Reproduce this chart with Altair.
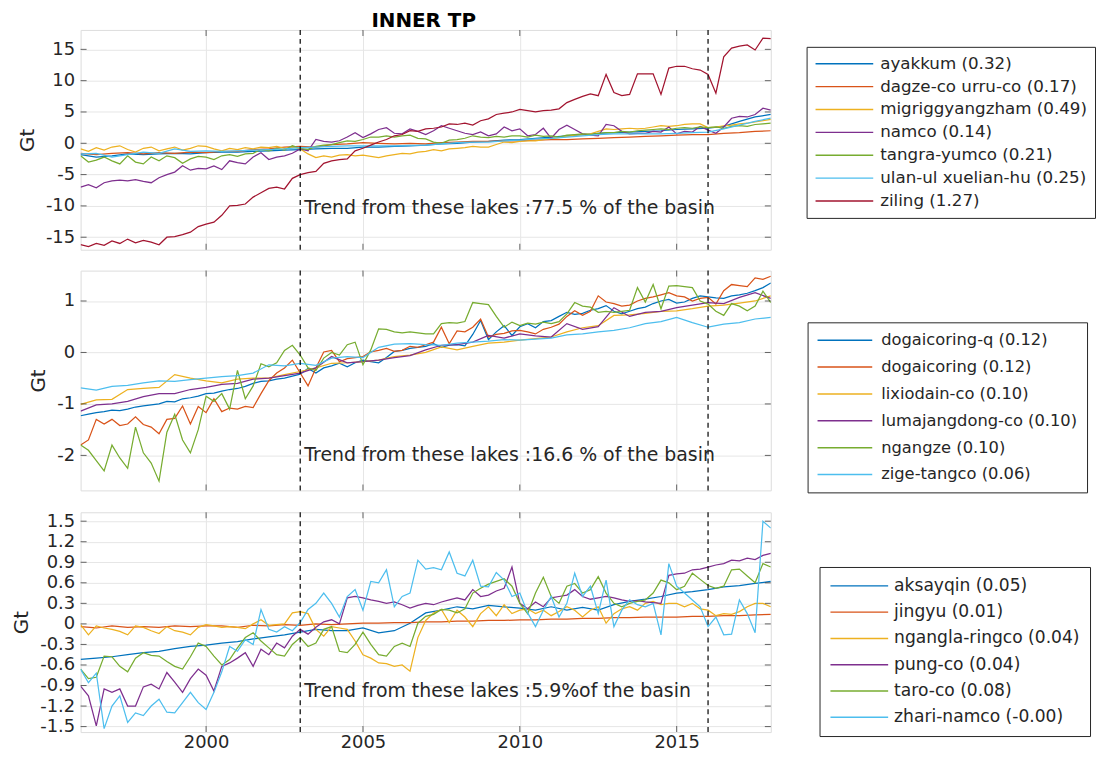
import altair as alt
import pandas as pd

# ---------------- time grids (sampling of the monthly series) ----------------
YEARS_Q = [1996 + 0.25 * i for i in range(89)]   # quarterly samples
YEARS_H = [1996 + 0.5 * i for i in range(45)]    # half-year samples

# ---------------- panel 1 ----------------
P1_NAMES = ["ayakkum (0.32)", "dagze-co urru-co (0.17)", "migriggyangzham (0.49)",
            "namco (0.14)", "tangra-yumco (0.21)", "ulan-ul xuelian-hu (0.25)", "ziling (1.27)"]

AYAKKUM = [-1.8, -2.2, -2.0, -1.7, -1.8, -1.7, -1.6, -1.7, -1.5, -1.4,
           -1.4, -1.3, -1.2, -1.1, -1.0, -0.9, -0.8, -0.8, -0.6, -0.6,
           -0.5, -0.4, -0.3, -0.1, 0.0, 0.2, 0.3, 0.5, 0.6, 0.8,
           1.0, 1.2, 1.4, 1.6, 1.7, 1.8, 1.9, 2.0, 2.2, 2.3,
           2.4, 2.7, 3.5, 4.2, 4.6]
DAGZE = [-1.6, -1.8, -1.6, -1.5, -1.7, -1.5, -1.6, -1.4, -1.5, -1.3,
         -1.3, -1.0, -0.9, -0.6, -0.5, -0.6, -0.2, -0.1, 0.1, 0.0,
         -0.1, 0.0, -0.1, 0.1, 0.2, 0.3, 0.3, 0.4, 0.4, 0.5,
         0.6, 0.6, 0.7, 0.8, 0.9, 1.0, 1.1, 1.2, 1.3, 1.4,
         1.4, 1.6, 1.7, 1.9, 2.0]
MIGRIGGYANGZHAM = [-0.9, -1.3, -0.7, -1.1, -0.6, -0.4, -1.0, -1.4, -0.8, -0.6, -1.2, -0.9,
                   -0.6, -1.1, -0.8, -0.4, -0.5, -0.9, -1.2, -0.8, -1.0, -0.7, -0.9, -0.6,
                   -0.7, -0.5, -0.8, -0.6, -0.9, -1.7, -2.3, -2.0, -2.2, -1.9, -1.8, -2.0,
                   -1.9, -2.1, -2.3, -2.0, -1.8, -1.6, -1.7, -1.4, -1.3, -1.0, -1.2, -0.9,
                   -0.8, -0.7, -0.5, -0.6, -0.6, -0.2, 0.2, 0.1, 0.3, 0.4, 0.4, 0.6,
                   0.8, 0.9, 1.1, 1.3, 1.4, 1.5, 1.9, 2.3, 2.2, 2.3, 2.4, 2.3,
                   2.4, 2.6, 2.8, 2.7, 2.8, 3.0, 3.1, 3.1, 2.5, 2.6, 2.8, 2.9,
                   3.1, 3.2, 3.4, 3.6, 3.8]
NAMCO = [-7.0, -6.6, -7.1, -6.3, -6.0, -5.9, -6.0, -5.8, -6.1, -6.3, -5.5, -5.0,
         -4.6, -3.6, -4.3, -4.0, -4.1, -3.6, -4.2, -2.8, -3.1, -3.3, -2.2, -1.5,
         -2.6, -2.2, -2.0, -1.6, -0.9, -1.2, 0.6, 0.3, 0.2, 0.4, 1.0, 1.7,
         0.9, 1.5, 2.2, 2.5, 1.6, 1.5, 2.3, 1.9, 1.4, 2.0, 2.8, 2.4,
         2.0, 1.6, 1.4, 1.8, 1.2, 1.5, 2.6, 2.0, 2.3, 1.2, 1.4, 2.4,
         0.8, 2.2, 2.9, 2.2, 1.5, 1.3, 1.2, 3.0, 2.8, 1.9, 1.5, 1.6,
         1.6, 1.9, 1.8, 2.6, 1.5, 1.9, 1.8, 2.7, 2.1, 1.6, 2.6, 4.0,
         4.3, 4.2, 4.6, 5.6, 5.3]
TANGRA = [-2.0, -3.0, -2.7, -2.2, -2.8, -3.3, -2.0, -3.0, -3.3, -2.2, -2.8, -2.0,
          -2.3, -3.2, -2.5, -2.1, -2.2, -2.6, -2.0, -1.8, -2.1, -1.7, -1.6, -1.0,
          -1.2, -0.8, -1.1, -0.4, -0.8, -1.0, -0.5, -0.3, -0.2, 0.1, 0.4, 0.3,
          0.6, 1.0, 1.0, 1.2, 1.0, 1.2, 1.3, 0.8, 0.7, 0.2, 0.0, 0.5,
          0.6, 0.8, 1.2, 1.0, 0.9, 1.1, 1.0, 1.2, 1.2, 1.0, 1.3, 1.1,
          1.2, 1.0, 1.3, 1.4, 1.5, 1.4, 1.6, 1.7, 1.7, 1.9, 1.8, 2.0,
          2.1, 2.2, 2.3, 2.2, 2.4, 2.5, 2.4, 2.6, 2.5, 2.6, 2.4, 2.7,
          2.8, 2.7, 3.0, 3.1, 3.2]
ULAN = [-1.7, -1.6, -2.2, -1.8, -1.4, -1.6, -0.9, -1.3, -1.2, -1.3,
        -1.2, -1.1, -1.0, -0.9, -0.7, -0.6, -0.5, -0.4, -0.4, -0.4,
        -0.4, -0.35, -0.3, -0.1, 0.1, 0.2, 0.2, 0.4, 0.5, 0.7,
        0.8, 1.0, 1.2, 1.4, 1.5, 1.5, 1.5, 1.5, 1.6, 1.7,
        1.8, 2.3, 2.9, 3.5, 4.0]
ZILING = [-16.2, -16.5, -16.0, -16.3, -15.6, -16.0, -15.3, -15.9, -15.5, -15.8, -16.2, -15.0,
          -14.9, -14.6, -14.2, -13.3, -12.9, -12.6, -11.5, -10.0, -9.9, -9.7, -8.6, -7.9,
          -7.2, -7.0, -7.3, -5.6, -5.0, -4.7, -4.5, -3.2, -2.8, -2.6, -2.5, -1.2,
          -0.8, -0.3, 0.2, 0.6, 1.2, 1.4, 2.0, 1.9, 2.3, 2.4, 2.6, 3.1,
          3.0, 3.2, 2.9, 3.6, 3.9, 4.6, 4.8, 5.0, 5.4, 5.2, 5.0, 5.2,
          5.3, 5.5, 6.5, 7.0, 7.5, 7.9, 7.6, 11.0, 8.1, 7.6, 7.8, 11.1,
          11.1, 11.1, 7.8, 12.0, 12.3, 12.3, 11.9, 11.7, 11.0, 8.0, 13.8, 15.2,
          15.5, 15.7, 14.9, 16.8, 16.7]

# ---------------- panel 2 ----------------
P2_NAMES = ["dogaicoring-q (0.12)", "dogaicoring (0.12)", "lixiodain-co (0.10)",
            "lumajangdong-co (0.10)", "ngangze (0.10)", "zige-tangco (0.06)"]

DOGAICORING_Q = [-1.23, -1.20, -1.17, -1.15, -1.12, -1.13, -1.10, -1.06, -1.04, -1.02, -1.00, -0.95,
                 -0.96, -0.90, -0.88, -0.85, -0.80, -0.79, -0.75, -0.72, -0.70, -0.66, -0.60, -0.56,
                 -0.55, -0.52, -0.50, -0.46, -0.42, -0.31, -0.40, -0.30, -0.26, -0.21, -0.28, -0.20,
                 -0.15, -0.18, -0.20, -0.10, 0.02, 0.04, 0.08, 0.10, 0.12, 0.17, 0.10, 0.14,
                 0.15, 0.13, 0.35, 0.62, 0.25, 0.40, 0.52, 0.33, 0.50, 0.56, 0.48, 0.60,
                 0.62, 0.70, 0.78, 0.74, 0.76, 0.82, 0.85, 0.91, 0.80, 0.75, 0.80, 0.85,
                 0.88, 0.95, 1.00, 1.03, 0.96, 0.98, 1.05, 1.10, 1.08, 1.06, 1.05, 1.10,
                 1.12, 1.15, 1.20, 1.26, 1.35]
DOGAICORING = [-1.80, -1.70, -1.30, -1.39, -1.30, -1.42, -1.39, -1.25, -1.40, -1.45, -1.58, -1.30,
               -1.28, -1.04, -1.39, -1.05, -1.17, -0.90, -1.15, -1.08, -1.10, -1.05, -1.07, -0.80,
               -0.55, -0.40, -0.30, -0.15, -0.40, -0.65, -0.30, 0.01, 0.04, -0.18, -0.12, -0.10,
               -0.08, 0.01, 0.04, 0.08, 0.02, 0.04, 0.12, 0.10, 0.15, 0.20, 0.49, 0.17,
               0.42, 0.40, 0.49, 0.65, 0.30, 0.35, 0.37, 0.42, 0.43, 0.40, 0.36, 0.45,
               0.49, 0.55, 0.70, 0.81, 0.72, 0.80, 1.10, 0.98, 0.95, 0.90, 0.92, 1.00,
               1.05, 1.08, 1.12, 1.16, 1.10, 1.08, 1.00, 1.05, 1.07, 0.94, 1.20, 1.32,
               1.30, 1.28, 1.45, 1.42, 1.48]
LIXIODAIN = [-1.01, -0.92, -0.91, -0.72, -0.70, -0.68, -0.43, -0.50, -0.55, -0.59,
             -0.52, -0.50, -0.50, -0.43, -0.37, -0.30, -0.21, -0.20, -0.18, -0.15,
             -0.08, -0.05, 0.00, 0.11, 0.05, 0.12, 0.18, 0.20, 0.24, 0.27,
             0.30, 0.40, 0.48, 0.52, 0.72, 0.73, 0.76, 0.80, 0.81, 0.85,
             0.90, 0.92, 0.96, 1.00, 1.10]
LUMAJANGDONG = [-1.14, -1.02, -1.00, -0.95, -0.86, -0.80, -0.80, -0.72, -0.68, -0.62,
                -0.60, -0.52, -0.50, -0.45, -0.40, -0.30, -0.08, -0.20, -0.18, -0.15,
                -0.10, -0.06, 0.05, 0.14, 0.15, 0.20, 0.33, 0.28, 0.36, 0.32,
                0.30, 0.56, 0.45, 0.50, 0.87, 0.70, 0.78, 0.80, 0.87, 0.92,
                0.97, 0.95, 1.07, 1.16, 1.05]
NGANGZE = [-1.80, -1.90, -2.10, -2.30, -1.80, -2.05, -2.25, -1.45, -1.95, -2.15, -2.50, -1.55,
           -1.20, -1.70, -1.95, -1.50, -0.85, -0.95, -0.80, -1.10, -0.35, -0.90, -0.65, -0.22,
           -0.28, -0.20, 0.04, 0.14, -0.05, -0.30, -0.35, -0.11, 0.00, -0.05, 0.15, 0.20,
           -0.24, 0.05, 0.46, 0.45, 0.40, 0.38, 0.40, 0.38, 0.36, 0.36, 0.56, 0.58,
           0.57, 0.60, 0.97, 0.95, 0.93, 0.70, 0.49, 0.59, 0.52, 0.57, 0.55, 0.59,
           0.56, 0.60, 0.75, 0.97, 0.90, 0.88, 0.78, 0.80, 0.78, 0.80, 0.82, 1.26,
           0.98, 1.32, 0.85, 1.29, 1.30, 1.28, 1.26, 1.00, 0.94, 0.80, 0.72, 0.95,
           0.90, 0.81, 0.90, 1.19, 0.97]
ZIGE = [-0.69, -0.73, -0.66, -0.64, -0.59, -0.55, -0.56, -0.53, -0.50, -0.47,
        -0.45, -0.40, -0.24, -0.26, -0.21, -0.25, -0.11, -0.08, -0.10, 0.10,
        0.16, 0.17, 0.15, 0.14, 0.18, 0.20, 0.22, 0.25, 0.24, 0.26,
        0.28, 0.34, 0.36, 0.40, 0.43, 0.48, 0.56, 0.60, 0.68, 0.58,
        0.49, 0.55, 0.58, 0.65, 0.68]

# ---------------- panel 3 ----------------
P3_NAMES = ["aksayqin (0.05)", "jingyu (0.01)", "ngangla-ringco (0.04)",
            "pung-co (0.04)", "taro-co (0.08)", "zhari-namco (-0.00)"]

AKSAYQIN = [-0.52, -0.50, -0.48, -0.45, -0.42, -0.40, -0.36, -0.33, -0.31, -0.28,
            -0.26, -0.22, -0.19, -0.16, -0.12, -0.08, -0.10, -0.10, -0.06, -0.13,
            -0.10, 0.01, 0.16, 0.20, 0.25, 0.22, 0.27, 0.25, 0.23, 0.20,
            0.25, 0.20, 0.24, 0.20, 0.28, 0.33, 0.36, 0.40, 0.45, 0.47,
            0.50, 0.54, 0.56, 0.59, 0.62]
JINGYU = [-0.04, -0.06, -0.03, -0.05, -0.04, -0.05, -0.03, -0.04, -0.03, -0.03,
          -0.05, -0.02, -0.03, -0.01, -0.02, 0.00, -0.01, 0.00, 0.01, 0.01,
          0.02, 0.02, 0.03, 0.03, 0.04, 0.04, 0.05, 0.05, 0.06, 0.06,
          0.07, 0.07, 0.08, 0.08, 0.09, 0.09, 0.10, 0.10, 0.10, 0.11,
          0.11, 0.12, 0.12, 0.13, 0.14]
NGANGLA = [-0.01, -0.16, -0.03, -0.06, -0.08, -0.11, -0.16, -0.03, -0.05, -0.10, -0.14, -0.04,
           -0.10, -0.12, -0.16, -0.05, -0.01, -0.03, -0.05, -0.04, -0.05, -0.07, 0.00, 0.06,
           -0.02, -0.01, 0.00, 0.16, 0.18, 0.15, -0.08, -0.18, -0.04, -0.06, -0.08, -0.25,
           -0.45, -0.50, -0.57, -0.58, -0.62, -0.60, -0.69, -0.20, 0.05, 0.16, 0.21, 0.02,
           0.20, 0.10, -0.04, 0.15, 0.25, 0.12, 0.28, 0.15, 0.20, 0.22, 0.15, 0.20,
           0.12, 0.18, 0.25, 0.20, 0.10, 0.20, 0.25, 0.01, 0.15, 0.22, 0.25, 0.20,
           0.30, 0.33, 0.28, 0.30, 0.30, 0.25, 0.30, 0.22, 0.20, 0.12, 0.15, 0.14,
           0.18, 0.25, 0.30, 0.30, 0.25]
PUNG = [-0.91, -1.05, -1.49, -0.95, -1.00, -0.95, -1.20, -1.20, -0.92, -0.88, -0.95, -0.71,
        -0.85, -1.00, -0.80, -0.66, -0.75, -0.98, -0.62, -0.57, -0.50, -0.42, -0.62, -0.37,
        -0.45, -0.28, -0.35, -0.18, -0.08, -0.15, -0.05, 0.03, 0.06, 0.00, 0.38, 0.40,
        0.38, 0.35, 0.33, 0.30, 0.32, 0.28, 0.23, 0.27, 0.30, 0.28, 0.32, 0.35,
        0.38, 0.35, 0.50, 0.40, 0.42, 0.48, 0.52, 0.83, 0.30, 0.22, 0.32, 0.25,
        0.38, 0.40, 0.42, 0.50, 0.40, 0.36, 0.38, 0.40, 0.38, 0.35, 0.33, 0.34,
        0.32, 0.31, 0.30, 0.71, 0.73, 0.74, 0.79, 0.80, 0.83, 0.86, 0.88, 0.93,
        0.92, 0.96, 0.94, 1.00, 1.03]
TARO = [-0.66, -0.80, -0.78, -0.47, -0.48, -0.62, -0.70, -0.50, -0.42, -0.46, -0.47, -0.55,
        -0.62, -0.66, -0.48, -0.28, -0.33, -0.47, -0.60, -0.52, -0.35, -0.20, -0.13, -0.25,
        -0.35, -0.45, -0.47, -0.30, -0.20, -0.33, -0.28, -0.08, -0.04, -0.40, -0.42, -0.30,
        -0.12, -0.30, -0.45, -0.47, -0.33, -0.28, -0.33, 0.01, 0.11, 0.14, 0.21, 0.20,
        0.16, 0.22, 0.45, 0.52, 0.58, 0.62, 0.66, 0.55, 0.30, 0.15, 0.45, 0.68,
        0.40, 0.30, 0.55, 0.59, 0.45, 0.50, 0.69, 0.45, 0.30, 0.25, 0.30, 0.33,
        0.35, 0.45, 0.64, 0.60, 0.50, 0.55, 0.74, 0.65, 0.56, 0.52, 0.55, 0.79,
        0.80, 0.70, 0.60, 0.88, 0.83]
ZHARI = [-0.66, -0.86, -0.72, -1.53, -1.20, -1.05, -1.44, -1.30, -1.34, -1.20, -1.10, -1.29,
         -1.30, -1.15, -1.00, -1.15, -1.25, -1.00, -0.70, -0.33, -0.40, -0.23, -0.30, 0.21,
         -0.08, -0.12, -0.04, -0.10, 0.02, 0.21, 0.30, 0.45, 0.30, 0.10, 0.40, 0.50,
         0.20, 0.62, 0.60, 0.79, 0.25, 0.40, 0.45, 0.93, 0.80, 0.82, 0.79, 1.05,
         0.74, 0.70, 0.93, 0.55, 0.54, 0.75, 0.64, 0.40, 0.45, 0.16, -0.04, 0.20,
         0.40, 0.10, 0.30, 0.74, 0.40, 0.55, 0.15, 0.64, -0.04, 0.20, 0.35, 0.28,
         0.25, 0.30, -0.16, 0.88, 0.55, 0.45, 0.35, 0.25, -0.04, 0.10, -0.16, -0.15,
         0.35, 0.15, -0.13, 1.50, 1.40]

COLORS = ["#0072BD", "#D95319", "#EDB120", "#7E2F8E", "#77AC30", "#4DBEEE", "#A2142F"]
FONT = "DejaVu Sans"
INK = "#262626"
GRID = "#e6e6e6"
X_DOMAIN = [1996, 2018]
X_TICKS = [2000, 2005, 2010, 2015]
DASH_YEARS = [2003, 2016]
W, H = 694, 221


def frame(names, grids, values):
    rows = []
    for n, g, v in zip(names, grids, values):
        assert len(g) == len(v), (n, len(g), len(v))
        for t, y in zip(g, v):
            rows.append({"year": t, "gt": y, "lake": n})
    return pd.DataFrame(rows)


df1 = frame(P1_NAMES, [YEARS_H, YEARS_H, YEARS_Q, YEARS_Q, YEARS_Q, YEARS_H, YEARS_Q],
            [AYAKKUM, DAGZE, MIGRIGGYANGZHAM, NAMCO, TANGRA, ULAN, ZILING])
df2 = frame(P2_NAMES, [YEARS_Q, YEARS_Q, YEARS_H, YEARS_H, YEARS_Q, YEARS_H],
            [DOGAICORING_Q, DOGAICORING, LIXIODAIN, LUMAJANGDONG, NGANGZE, ZIGE])
df3 = frame(P3_NAMES, [YEARS_H, YEARS_H, YEARS_Q, YEARS_Q, YEARS_Q, YEARS_Q],
            [AKSAYQIN, JINGYU, NGANGLA, PUNG, TARO, ZHARI])


def panel(df, names, ydomain, yticks, note, note_y, leg, show_x):
    xenc = alt.X("year:Q", scale=alt.Scale(domain=X_DOMAIN, nice=False, zero=False),
                 axis=alt.Axis(values=X_TICKS, grid=True, gridColor=GRID, ticks=False, domain=False,
                               labels=show_x, labelExpr="'' + datum.value", labelFontSize=18,
                               labelFont=FONT, labelColor=INK, labelPadding=2, labelFlush=False,
                               title=None))
    yenc = alt.Y("gt:Q", scale=alt.Scale(domain=ydomain, nice=False, zero=False),
                 axis=alt.Axis(values=yticks, grid=True, gridColor=GRID, ticks=False, domain=False,
                               labelExpr="'' + datum.value", labelFontSize=18, labelFont=FONT,
                               labelColor=INK, labelPadding=6, labelOverlap=False, labelFlush=False,
                               title="Gt", titleFont=FONT, titleFontSize=20, titleFontWeight="normal",
                               titleColor=INK, titlePadding=8))
    color = alt.Color("lake:N", sort=names,
                      scale=alt.Scale(domain=names, range=COLORS[:len(names)]),
                      legend=alt.Legend(title=None, orient="none", legendX=leg["x"], legendY=leg["y"],
                                        symbolType="stroke", symbolSize=leg["sym"] ** 2,
                                        symbolStrokeWidth=1.5, clipHeight=18, rowPadding=leg["row"],
                                        labelFontSize=leg["font"], labelFont=FONT, labelColor=INK,
                                        labelOffset=leg["off"], labelLimit=400, padding=leg["pad"],
                                        strokeColor=INK, fillColor="white"))
    lines = alt.Chart(df).mark_line(strokeWidth=1.25, clip=True).encode(
        x=xenc, y=yenc, color=color, order="year:Q")
    dash = alt.Chart(pd.DataFrame({"year": DASH_YEARS})).mark_rule(
        color="black", strokeDash=[5, 4], strokeWidth=1.2).encode(x=xenc)
    txt = alt.Chart(pd.DataFrame({"year": [2003.13], "gt": [note_y], "t": [note]})).mark_text(
        align="left", baseline="middle", fontSize=19, font=FONT, color=INK).encode(
        x=xenc, y=yenc, text="t:N")
    # inner tick marks (MATLAB box style)
    xt = pd.DataFrame({"year": X_TICKS})
    yt = pd.DataFrame({"gt": yticks})
    tick_top = alt.Chart(xt).mark_tick(color=INK, size=6, thickness=1, orient="vertical").encode(
        x=xenc, y=alt.value(3))
    tick_bot = alt.Chart(xt).mark_tick(color=INK, size=6, thickness=1, orient="vertical").encode(
        x=xenc, y=alt.value(H - 3))
    tick_l = alt.Chart(yt).mark_tick(color=INK, size=6, thickness=1, orient="horizontal").encode(
        y=yenc, x=alt.value(3))
    tick_r = alt.Chart(yt).mark_tick(color=INK, size=6, thickness=1, orient="horizontal").encode(
        y=yenc, x=alt.value(W - 3))
    return alt.layer(lines, dash, txt, tick_top, tick_bot, tick_l, tick_r).properties(width=W, height=H)


LEG1 = {"x": 730, "y": 17, "sym": 58, "row": 5.0, "font": 16.8, "off": 6, "pad": 8}
LEG2 = {"x": 731, "y": 52, "sym": 55, "row": 9.0, "font": 16.4, "off": 8, "pad": 9}
LEG3 = {"x": 743, "y": 55, "sym": 58, "row": 8.4, "font": 17.2, "off": 5, "pad": 10}

p1 = panel(df1, P1_NAMES, [-17.0, 18.1], [-15, -10, -5, 0, 5, 10, 15],
           "Trend from these lakes :77.5 % of the basin", -10.3, LEG1, False)
p2 = panel(df2, P2_NAMES, [-2.68, 1.59], [-2, -1, 0, 1],
           "Trend from these lakes :16.6 % of the basin", -2.0, LEG2, False)
p3 = panel(df3, P3_NAMES, [-1.58, 1.63],
           [-1.5, -1.2, -0.9, -0.6, -0.3, 0, 0.3, 0.6, 0.9, 1.2, 1.5],
           "Trend from these lakes :5.9%of the basin", -0.975, LEG3, True)

title = alt.Title("INNER TP", fontSize=20, fontWeight="bold", font=FONT, color="black",
                  anchor="start", dx=362, offset=-2)

chart = alt.vconcat(p1, p2, p3, spacing=17).resolve_scale(
    color="independent", y="independent").resolve_legend(color="independent").properties(
    title=title, padding={"left": 3, "top": 0, "right": 0, "bottom": 0}).configure_view(
    stroke=INK, strokeWidth=1).configure(background="white")

chart.save("out.html", embed_options={"renderer": "svg", "actions": False})
